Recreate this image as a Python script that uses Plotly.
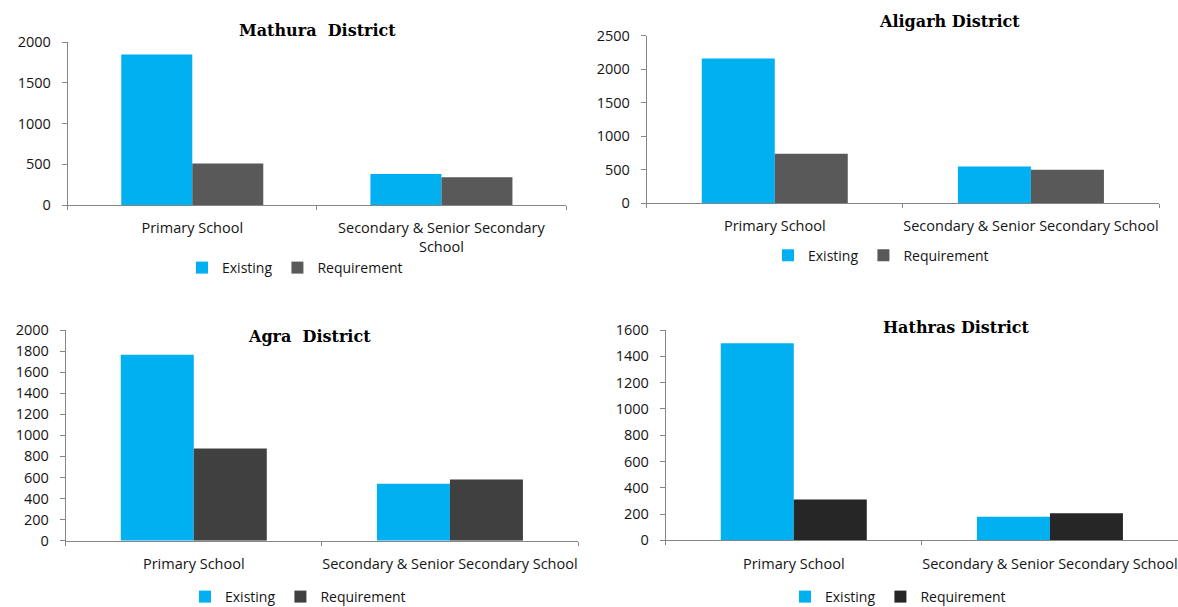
import plotly.graph_objects as go

# School infrastructure by district: existing schools vs. requirement
categories = ["Primary School", "Secondary & Senior Secondary School"]
series_names = ["Existing", "Requirement"]

district_titles = ["Mathura  District", "Aligarh District", "Agra  District", "Hathras District"]

existing_mathura = [1850, 380]
requirement_mathura = [510, 340]

existing_aligarh = [2160, 545]
requirement_aligarh = [735, 495]

existing_agra = [1765, 540]
requirement_agra = [875, 580]

existing_hathras = [1500, 180]
requirement_hathras = [310, 205]

# tick labels per panel (Mathura wraps its second category)
ticktext_mathura = ["Primary School", "Secondary & Senior Secondary<br>School"]
ticktext_other = ["Primary School", "Secondary & Senior Secondary School"]

y_max = [2000, 2500, 2000, 1600]
y_step = [500, 500, 200, 200]

W, H = 1178, 607
EXIST_COLOR = "#00B0F0"
REQ_COLORS = ["#595959", "#595959", "#404040", "#262626"]
AXIS_COLOR = "#868686"
TEXT_COLOR = "#141414"
FONT = "Open Sans"
FONT_SIZE = 14.5


def px_x(v):
    return v / W


def px_y(v):
    return 1 - v / H


# plot-area boxes in pixels: (left, right, top, bottom)
boxes = [
    (67.7, 566, 42.3, 205),
    (646.7, 1159, 35.7, 203),
    (65.7, 578, 330, 540.7),
    (665.7, 1178, 330, 540.3),
]
title_pos = [(317.6, 30), (950, 21.7), (309, 336), (956, 327.3)]
legend_pos = [(182, 268), (768, 255.7), (185, 597), (785, 597)]

panels = [
    (existing_mathura, requirement_mathura, ticktext_mathura),
    (existing_aligarh, requirement_aligarh, ticktext_other),
    (existing_agra, requirement_agra, ticktext_other),
    (existing_hathras, requirement_hathras, ticktext_other),
]

fig = go.Figure()
layout = {}
annotations = []

for i, (exist, req, ticktext) in enumerate(panels):
    n = i + 1
    sfx = "" if n == 1 else str(n)
    xa, ya = "x" + sfx, "y" + sfx
    leg = "legend" + sfx

    fig.add_trace(go.Bar(
        x=categories, y=exist, name=series_names[0],
        marker=dict(color=EXIST_COLOR, line=dict(width=0)),
        xaxis=xa, yaxis=ya, legend=leg,
    ))
    fig.add_trace(go.Bar(
        x=categories, y=req, name=series_names[1],
        marker=dict(color=REQ_COLORS[i], line=dict(width=0)),
        xaxis=xa, yaxis=ya, legend=leg,
    ))

    l, r, t, b = boxes[i]
    layout["xaxis" + sfx] = dict(
        domain=[px_x(l), min(px_x(r), 1.0)], anchor=ya,
        type="category", range=[-0.5, 1.5],
        tickvals=categories, ticktext=ticktext, tickangle=0,
        showline=True, linecolor=AXIS_COLOR, linewidth=1,
        ticks="outside", tickson="boundaries", ticklen=4,
        tickcolor=AXIS_COLOR, ticklabelstandoff=10,
        showgrid=False, zeroline=False, automargin=False,
        tickfont=dict(family=FONT, size=FONT_SIZE, color=TEXT_COLOR),
    )
    layout["yaxis" + sfx] = dict(
        domain=[px_y(b), px_y(t)], anchor=xa,
        range=[0, y_max[i]], tickmode="linear", tick0=0, dtick=y_step[i],
        showline=True, linecolor=AXIS_COLOR, linewidth=1,
        ticks="outside", ticklen=5, tickcolor=AXIS_COLOR,
        ticklabelstandoff=8,
        showgrid=False, zeroline=False, automargin=False,
        tickfont=dict(family=FONT, size=FONT_SIZE, color=TEXT_COLOR),
    )
    lx, ly = legend_pos[i]
    layout[leg] = dict(
        orientation="h", x=px_x(lx), xanchor="left",
        y=px_y(ly), yanchor="middle",
        bgcolor="rgba(0,0,0,0)", itemwidth=30,
        font=dict(family=FONT, size=14, color=TEXT_COLOR),
        itemclick=False, itemdoubleclick=False,
    )
    tx, ty = title_pos[i]
    annotations.append(dict(
        text="<b>" + district_titles[i] + "</b>",
        xref="paper", yref="paper", x=px_x(tx), y=px_y(ty),
        xanchor="center", yanchor="middle", showarrow=False,
        font=dict(family="DejaVu Serif", size=16, color="#000000"),
    ))

fig.update_layout(
    **layout,
    annotations=annotations,
    barmode="group", bargap=0.43, bargroupgap=0,
    width=W, height=H,
    margin=dict(l=0, r=0, t=0, b=0, autoexpand=False),
    paper_bgcolor="white", plot_bgcolor="white",
    template="none", showlegend=True,
)

fig.write_html("out.html")
